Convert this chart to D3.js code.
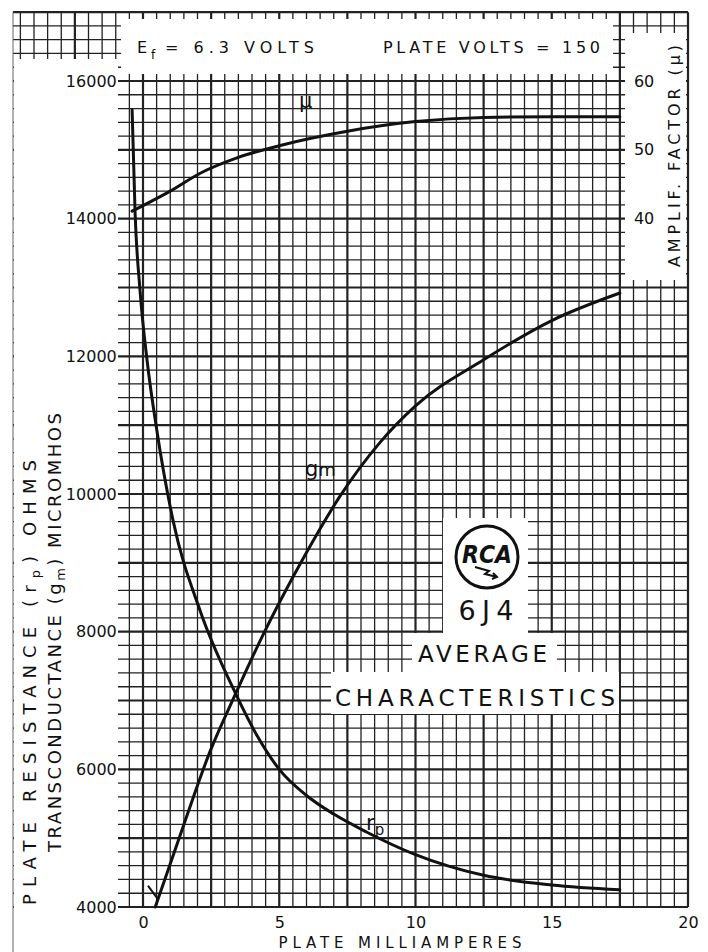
<!DOCTYPE html>
<html>
<head>
<meta charset="utf-8">
<script src="https://cdn.jsdelivr.net/npm/d3@7"></script>
<style>
  body { margin: 0; background: #fff; }
  svg { display: block; }
  text { font-family: 'DejaVu Sans', sans-serif; fill: #111; }
</style>
</head>
<body>
<div id="chart"></div>
<script>
'use strict'

// plate current (mA) and readings
const muI = [-0.4, 0, 1, 2.1, 3.5, 5, 7.5, 10, 12.5, 15, 17.5]
const muV = [41.1, 41.9, 44.0, 46.6, 48.9, 50.6, 52.7, 54.1, 54.7, 54.8, 54.8]

const gmI = [0.45, 1.5, 2.45, 3.4, 4.4, 5, 6, 7.2, 8.7, 10, 12.5, 15, 17.5]
const gmV = [4000, 5200, 6250, 7100, 7950, 8420, 9150, 9950, 10750, 11280, 11950, 12520, 12920]

// short pen stroke at the foot of the gm curve
const gmTailI = [0.2, 0.52]
const gmTailV = [4300, 4130]

const rpI = [-0.4, -0.29, -0.11, 0.15, 0.51, 1.1, 2.1, 3.4, 4.2, 5, 6, 7, 8.2, 10, 12.5, 15, 17.5]
const rpV = [15580, 14080, 12960, 11940, 10920, 9620, 8300, 7100, 6480, 6000, 5620, 5350, 5090, 4760, 4460, 4320, 4250]

const xTicks = [0, 5, 10, 15, 20]
const yTicks = [4000, 6000, 8000, 10000, 12000, 14000, 16000]
const muTicks = [40, 50, 60]

const W = 708, H = 952

const svg = d3.select('#chart').append('svg')
  .attr('width', W)
  .attr('height', H)

svg.append('rect').attr('width', W).attr('height', H).attr('fill', '#fff')

const x = d3.scaleLinear().domain([0, 20]).range([143, 688])
const y = d3.scaleLinear().domain([4000, 16000]).range([907, 81])
const mu = d3.scaleLinear().domain([40, 60]).range([y(14000), y(16000)])

// graph paper: 0.5 mA by 200 units, heavy every fifth line
const gx = d3.range(-9, 41).map(i => i / 2)
const gy = d3.range(20, 86).map(i => i * 200)
const paper = svg.append('g').attr('stroke', '#222')

paper.selectAll('.vl')
  .data(gx)
  .enter()
  .append('line')
    .attr('x1', d => x(d)).attr('x2', d => x(d))
    .attr('y1', y(17000)).attr('y2', y(4000))
    .attr('stroke-width', d => d % 2.5 === 0 ? 2.2 : 1.3)

paper.selectAll('.hl')
  .data(gy)
  .enter()
  .append('line')
    .attr('x1', 13).attr('x2', x(20))
    .attr('y1', d => y(d)).attr('y2', d => y(d))
    .attr('stroke-width', d => d % 1000 === 0 ? 2.2 : 1.3)

// white areas printed over the paper (leaves short stubs like the original)
const masks = [
  [14, 59, 104, 893],   // left label margin
  [121, 19, 492, 55],   // conditions box
  [625, 33, 61, 247],   // amplification factor label
  [443, 518, 85, 116],  // logo
  [412, 633, 145, 40],  // AVERAGE
  [331, 672, 288, 42]   // CHARACTERISTICS
]
svg.append('g').selectAll('rect')
  .data(masks)
  .enter()
  .append('rect')
    .attr('x', d => d[0]).attr('y', d => d[1])
    .attr('width', d => d[2]).attr('height', d => d[3])
    .attr('fill', '#fff')

// page edge
svg.append('line')
  .attr('x1', 13).attr('x2', 13).attr('y1', y(17000)).attr('y2', H)
  .attr('stroke', '#666').attr('stroke-width', 1)

// curves
const line = (xs, ys, sy) => d3.line()
  .x(d => x(xs[d]))
  .y(d => sy(ys[d]))
  .curve(d3.curveMonotoneX)(d3.range(xs.length))

const curves = svg.append('g')
  .attr('fill', 'none')
  .attr('stroke', '#111')
  .attr('stroke-width', 3)
  .attr('stroke-linecap', 'round')

curves.append('path').attr('d', line(muI, muV, mu))
curves.append('path').attr('d', line(gmI, gmV, y))
curves.append('path').attr('d', line(gmTailI, gmTailV, y)).attr('stroke-width', 2)
curves.append('path').attr('d', line(rpI, rpV, y))

// axes
const axL = svg.append('g')
  .attr('transform', `translate(${x(-1) + 2},0)`)
  .call(d3.axisLeft(y).tickValues(yTicks).tickSize(0).tickPadding(0).tickFormat(d3.format('d')))
const axB = svg.append('g')
  .attr('transform', `translate(0,${y(4000)})`)
  .call(d3.axisBottom(x).tickValues(xTicks).tickSize(0).tickPadding(10))
const axR = svg.append('g')
  .attr('transform', `translate(${x(17.5)},0)`)
  .call(d3.axisRight(mu).tickValues(muTicks).tickSize(0).tickPadding(14))

;[axL, axB, axR].forEach(a => {
  a.select('.domain').remove()
  a.selectAll('text')
    .attr('font-family', 'DejaVu Sans, sans-serif')
    .attr('font-size', 16)
    .attr('fill', '#111')
})
axL.selectAll('text').attr('dx', -1)

// conditions
const cond = svg.append('g').attr('font-size', 16)
cond.append('text').attr('x', 137).attr('y', 53).text('E')
cond.append('text').attr('x', 151).attr('y', 59).attr('font-size', 12).text('f')
cond.append('text').attr('x', 165).attr('y', 53)
  .attr('textLength', 149).attr('lengthAdjust', 'spacing').text('= 6.3 VOLTS')
cond.append('text').attr('x', 383).attr('y', 53)
  .attr('textLength', 217).attr('lengthAdjust', 'spacing').text('PLATE VOLTS = 150')

// axis titles
svg.append('text')
  .attr('transform', 'translate(400,948)')
  .attr('text-anchor', 'middle')
  .attr('font-size', 15)
  .attr('textLength', 243).attr('lengthAdjust', 'spacing')
  .text('PLATE MILLIAMPERES')

const t1 = svg.append('text')
  .attr('transform', 'translate(36,905) rotate(-90)')
  .attr('font-size', 18)
  .attr('textLength', 445).attr('lengthAdjust', 'spacing')
t1.append('tspan').text('PLATE RESISTANCE (r')
t1.append('tspan').attr('font-size', 13).attr('dy', 4).text('p')
t1.append('tspan').attr('dy', -4).text(') OHMS')

const t2 = svg.append('text')
  .attr('transform', 'translate(61,852) rotate(-90)')
  .attr('font-size', 18)
  .attr('textLength', 439).attr('lengthAdjust', 'spacing')
t2.append('tspan').text('TRANSCONDUCTANCE (g')
t2.append('tspan').attr('font-size', 13).attr('dy', 4).text('m')
t2.append('tspan').attr('dy', -4).text(') MICROMHOS')

svg.append('text')
  .attr('transform', 'translate(680,267) rotate(-90)')
  .attr('font-size', 16)
  .attr('textLength', 222).attr('lengthAdjust', 'spacing')
  .text('AMPLIF. FACTOR (μ)')

// curve names
svg.append('text').attr('x', 299).attr('y', 108).attr('font-size', 21).text('μ')
const gl = svg.append('text').attr('x', 305).attr('y', 476).attr('font-size', 21)
gl.append('tspan').text('g')
gl.append('tspan').attr('font-size', 18).text('m')
const rl = svg.append('text').attr('x', 366).attr('y', 830).attr('font-size', 21)
rl.append('tspan').text('r')
rl.append('tspan').attr('font-size', 15).attr('dy', 5).text('p')

// RCA mark and type
const logo = svg.append('g').attr('transform', 'translate(487,557)')
logo.append('circle').attr('r', 31).attr('fill', 'none').attr('stroke', '#111').attr('stroke-width', 3)
logo.append('text')
  .attr('text-anchor', 'middle').attr('y', 6)
  .attr('font-family', 'DejaVu Serif, serif').attr('font-style', 'italic').attr('font-weight', 'bold')
  .attr('font-size', 24).attr('textLength', 50).attr('lengthAdjust', 'spacingAndGlyphs')
  .text('RCA')
logo.append('path')
  .attr('d', 'M-12,10 L2,14 L-2,17 L10,20 M6,16 L10,20 L5,22')
  .attr('fill', 'none').attr('stroke', '#111').attr('stroke-width', 2)

svg.append('text').attr('x', 486).attr('y', 620).attr('text-anchor', 'middle')
  .attr('font-size', 27).attr('textLength', 55).attr('lengthAdjust', 'spacing').text('6J4')
svg.append('text').attr('x', 418).attr('y', 662)
  .attr('font-size', 23).attr('textLength', 129).attr('lengthAdjust', 'spacing').text('AVERAGE')
svg.append('text').attr('x', 335).attr('y', 706)
  .attr('font-size', 23).attr('textLength', 280).attr('lengthAdjust', 'spacing').text('CHARACTERISTICS')
</script>
</body>
</html>
